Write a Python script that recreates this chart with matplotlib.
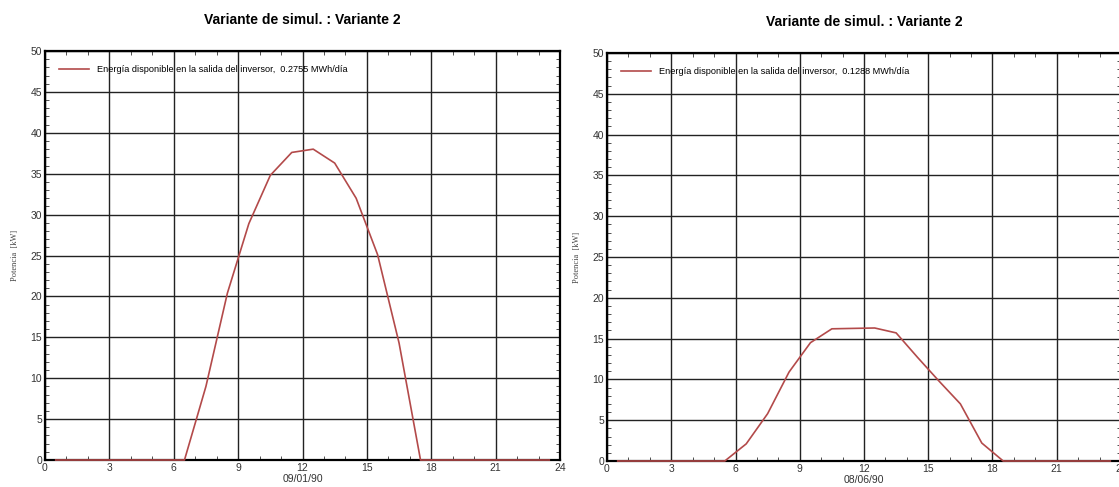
import numpy as np
import matplotlib.pyplot as plt
from matplotlib.ticker import MultipleLocator

# hourly values at the half hour
hours = np.arange(0.5, 24, 1.0)
power_jan = [0, 0, 0, 0, 0, 0, 0, 9.0, 20.4, 28.9, 34.8, 37.6,
             38.0, 36.3, 32.0, 25.1, 14.3, 0, 0, 0, 0, 0, 0, 0]
power_jun = [0, 0, 0, 0, 0, 0, 2.1, 5.8, 10.9, 14.5, 16.2, 16.25,
             16.3, 15.7, 12.7, 9.8, 7.0, 2.2, 0, 0, 0, 0, 0, 0]
dates = ['09/01/90', '08/06/90']
energy = ['0.2755', '0.1288']
title = 'Variante de simul. : Variante 2'

plt.rcParams['font.family'] = ['Liberation Sans', 'DejaVu Sans']

fig = plt.figure(figsize=(11.19, 4.87), dpi=100)
ax1 = fig.add_axes([45/1119, 27/487, 515/1119, 409/487])
ax2 = fig.add_axes([607/1119, 26/487, 514/1119, 408/487])

line_col = '#b34a4a'
for ax, vals, d, e in zip([ax1, ax2], [power_jan, power_jun], dates, energy):
    ax.plot(hours, vals, color=line_col, lw=1.2, zorder=5, clip_on=False,
            label='Energía disponible en la salida del inversor,  %s MWh/día' % e)
    ax.set_xlim(0, 24)
    ax.set_ylim(0, 50)
    ax.xaxis.set_major_locator(MultipleLocator(3))
    ax.xaxis.set_minor_locator(MultipleLocator(1))
    ax.yaxis.set_major_locator(MultipleLocator(5))
    ax.yaxis.set_minor_locator(MultipleLocator(1))
    ax.grid(True, which='major', color='#222222', lw=1.0)
    ax.tick_params(which='both', direction='in', top=True, right=True,
                   labelsize=7.5, colors='#333333', pad=2)
    ax.tick_params(which='major', length=0)
    ax.tick_params(which='minor', length=3, width=0.6)
    for s in ax.spines.values():
        s.set_linewidth(1.6)
        s.set_color('black')
    ax.set_xlabel(d, fontsize=7.5, color='#333333', labelpad=1)
    ax.set_ylabel('Potencia  [kW]', fontsize=6, color='#444444',
                  family='Liberation Serif', labelpad=8)
    ax.set_title(title, fontsize=10, fontweight='bold', pad=19.5)
    ax.legend(loc='upper left', frameon=False, fontsize=6.6,
              handlelength=3.2, handletextpad=0.9, bbox_to_anchor=(0.012, 0.985))

plt.savefig('out.png', dpi=100)
